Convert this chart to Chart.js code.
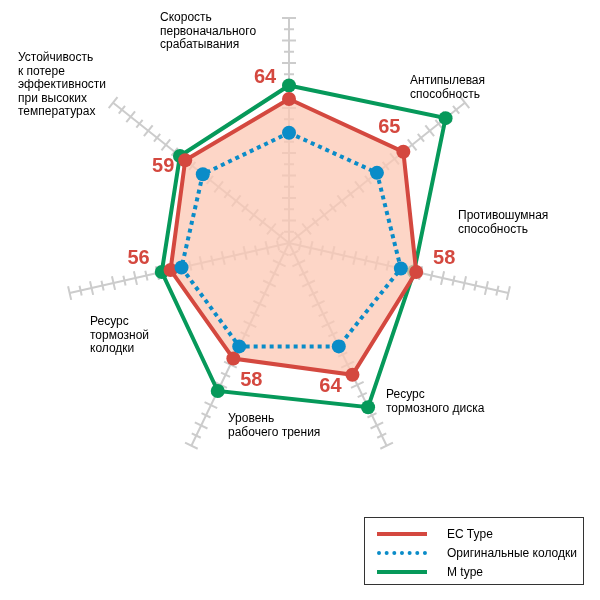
<!DOCTYPE html>
<html><head><meta charset="utf-8">
<script src="https://cdn.jsdelivr.net/npm/chart.js@4"></script>
<style>
body{margin:0;background:#fff;font-family:Arial,"Liberation Sans",sans-serif}
#wrap{position:absolute;left:0;top:0;width:600px;height:600px}
#legend{position:absolute;left:364px;top:517px;width:220px;height:68px;border:1px solid #333;font-size:12px;box-sizing:border-box;padding:6px 0 0 12px}
#legend div{height:19px;display:flex;align-items:center}
#legend span.l{display:inline-block;width:50px;margin-right:20px;height:0}
</style></head>
<body>
<div id="wrap"><canvas id="chart"></canvas></div>
<div id="legend">
 <div><span class="l" style="border-top:4px solid #d4483f"></span>EC Type</div>
 <div><span class="l" style="border-top:4px dotted #0a8cc8"></span>Оригинальные колодки</div>
 <div><span class="l" style="border-top:4px solid #06995a"></span>M type</div>
</div>
<script>
const labels = [
  ['Скорость','первоначального','срабатывания'],
  ['Антипылевая','способность'],
  ['Противошумная','способность'],
  ['Ресурс','тормозного диска'],
  ['Уровень','рабочего трения'],
  ['Ресурс','тормозной','колодки'],
  ['Устойчивость','к потере','эффективности','при высоких','температурах']
];
const ecType = [64, 65, 58, 65, 57, 54, 59];
const ecLabels = ['64', '65', '58', '64', '58', '56', '59'];
const original = [49, 50, 51, 51, 51, 49, 49];
const mType = [70, 89, 57, 81, 73, 58, 62];
const labelOffsets = [[-24,-22],[-14,-24],[28,-14],[-22,12],[18,22],[-32,-12],[-22,6]];
// top-left corner of each axis caption
const captionPos = [[160,12],[410,75],[458,210],[386,389],[228,413],[90,316],[18,52]];

const ticksPlugin = {
  id: 'axisTicks',
  beforeDatasetsDraw(chart) {
    const s = chart.scales.r, ctx = chart.ctx;
    ctx.save();
    ctx.strokeStyle = '#cccccc';
    ctx.lineWidth = 2;
    for (let i = 0; i < labels.length; i++) {
      const a = s.getIndexAngle(i) - Math.PI / 2;
      const px = -Math.sin(a), py = Math.cos(a);
      for (let v = 5; v <= 100; v += 5) {
        const p = s.getPointPositionForValue(i, v);
        const h = v % 10 === 0 ? 7 : 5;
        ctx.beginPath();
        ctx.moveTo(p.x - px * h, p.y - py * h);
        ctx.lineTo(p.x + px * h, p.y + py * h);
        ctx.stroke();
      }
    }
    ctx.fillStyle = '#000';
    ctx.font = '12px Arial, "Liberation Sans"';
    ctx.textAlign = 'left';
    ctx.textBaseline = 'top';
    labels.forEach((lines, i) => {
      lines.forEach((t, j) => ctx.fillText(t, captionPos[i][0], captionPos[i][1] + j * 13.5));
    });
    ctx.restore();
  },
  afterDatasetsDraw(chart) {
    const s = chart.scales.r, ctx = chart.ctx;
    ctx.save();
    ctx.fillStyle = '#d4483f';
    ctx.font = 'bold 20px Arial, "Liberation Sans"';
    ctx.textAlign = 'center';
    ctx.textBaseline = 'middle';
    ecType.forEach((v, i) => {
      const p = s.getPointPositionForValue(i, v);
      ctx.fillText(ecLabels[i], p.x + labelOffsets[i][0], p.y + labelOffsets[i][1]);
    });
    ctx.restore();
  }
};

new Chart(document.getElementById('chart'), {
  type: 'radar',
  data: {
    labels: labels,
    datasets: [
      { label: 'M type', data: mType, borderColor: '#06995a', backgroundColor: 'rgba(0,0,0,0)',
        borderWidth: 4, pointRadius: 7, pointBackgroundColor: '#06995a', pointBorderWidth: 0, order: 3 },
      { label: 'EC Type', data: ecType, borderColor: '#d4483f', backgroundColor: 'rgba(252,200,180,0.75)', fill: true,
        borderWidth: 4, pointRadius: 7, pointBackgroundColor: '#d4483f', pointBorderWidth: 0, order: 2 },
      { label: 'Оригинальные колодки', data: original, borderColor: '#0a8cc8', backgroundColor: 'rgba(0,0,0,0)',
        borderWidth: 4, borderDash: [4, 4], pointRadius: 7, pointBackgroundColor: '#0a8cc8', pointBorderWidth: 0, order: 1 }
    ]
  },
  options: {
    responsive: true,
    maintainAspectRatio: false,
    animation: false,
    layout: { padding: { top: 18, left: 64, right: 86, bottom: 132 } },
    plugins: { legend: { display: false }, tooltip: { enabled: false } },
    scales: {
      r: {
        min: 0, max: 100,
        grid: { display: false },
        angleLines: { color: '#cccccc', lineWidth: 2 },
        ticks: { display: false, stepSize: 10 },
        pointLabels: { display: false }
      }
    }
  },
  plugins: [ticksPlugin]
});
</script>
</body></html>
